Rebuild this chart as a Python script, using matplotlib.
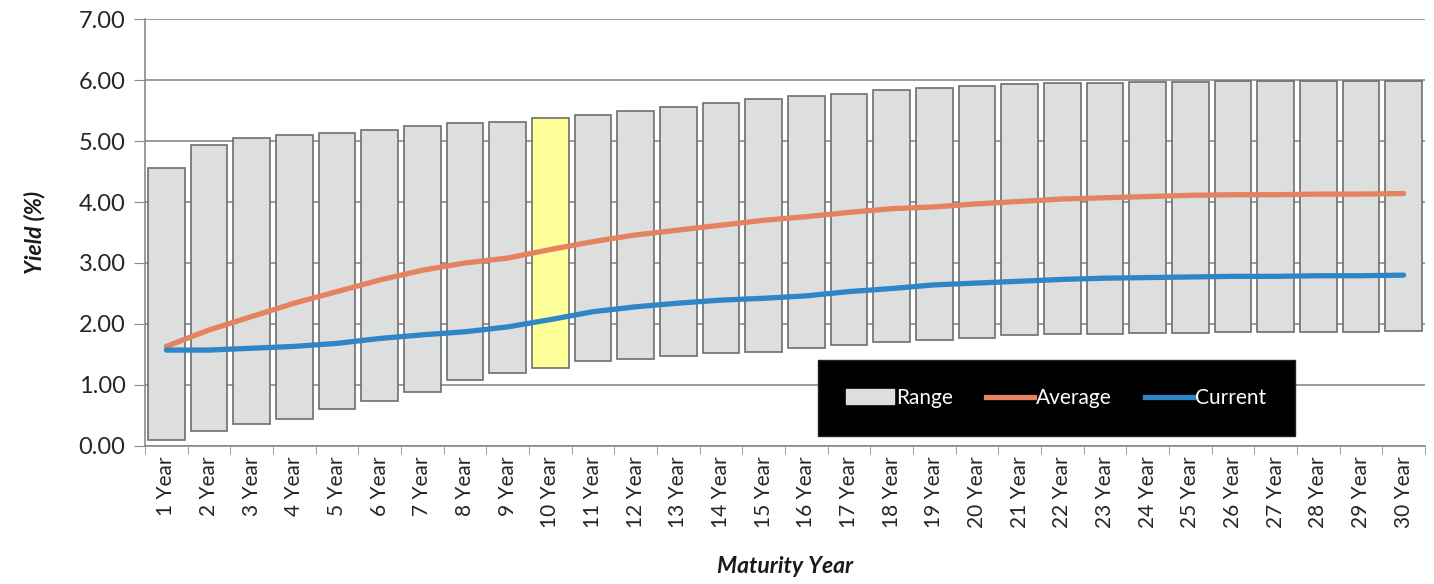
import matplotlib.pyplot as plt
from matplotlib.patches import Patch
from matplotlib.lines import Line2D

plt.rcParams['font.family'] = ['Lato', 'DejaVu Sans']

maturities = [f'{i} Year' for i in range(1, 31)]

range_high = [4.56, 4.93, 5.05, 5.10, 5.13, 5.19, 5.24, 5.30, 5.32, 5.38,
              5.43, 5.50, 5.56, 5.62, 5.69, 5.74, 5.78, 5.84, 5.88, 5.91,
              5.94, 5.96, 5.96, 5.97, 5.97, 5.98, 5.98, 5.98, 5.99, 5.99]
range_low = [0.10, 0.24, 0.35, 0.44, 0.61, 0.73, 0.88, 1.08, 1.19, 1.28,
             1.39, 1.42, 1.47, 1.52, 1.54, 1.60, 1.65, 1.70, 1.74, 1.77,
             1.82, 1.83, 1.84, 1.85, 1.85, 1.86, 1.86, 1.86, 1.87, 1.88]
average = [1.63, 1.90, 2.12, 2.34, 2.53, 2.72, 2.88, 3.00, 3.08, 3.22,
           3.35, 3.46, 3.54, 3.62, 3.70, 3.76, 3.83, 3.89, 3.92, 3.97,
           4.01, 4.05, 4.07, 4.09, 4.11, 4.12, 4.12, 4.13, 4.13, 4.14]
current = [1.57, 1.57, 1.60, 1.63, 1.68, 1.76, 1.82, 1.87, 1.95, 2.07,
           2.20, 2.28, 2.34, 2.39, 2.42, 2.46, 2.53, 2.58, 2.64, 2.67,
           2.70, 2.73, 2.75, 2.76, 2.77, 2.78, 2.78, 2.79, 2.79, 2.80]

highlight = '10 Year'

x = list(range(len(maturities)))
heights = [h - l for h, l in zip(range_high, range_low)]
bar_colors = ['#FFFF99' if m == highlight else '#DCDFDD' for m in maturities]

fig = plt.figure(figsize=(14.34, 5.84), dpi=100)
ax = fig.add_axes([0.1011, 0.2368, 0.8926, 0.7302])

ax.bar(x, heights, bottom=range_low, width=0.86, color=bar_colors,
       edgecolor='#6E6E6E', linewidth=1.2, zorder=2)
ax.plot(x, average, color='#E5825F', lw=3.8, zorder=3, solid_capstyle='round')
ax.plot(x, current, color='#2F86C6', lw=3.8, zorder=4, solid_capstyle='round')

ax.set_xlim(-0.5, len(maturities) - 0.5)
ax.set_ylim(0, 7)
ax.set_yticks(range(0, 8))
ax.set_yticklabels([f'{v:.2f}' for v in range(0, 8)], fontsize=17, color='#262626')
ax.yaxis.grid(True, color='#8A8A8A', lw=1.2, zorder=0)
ax.set_axisbelow(True)

ax.set_xticks(x)
ax.set_xticklabels(maturities, rotation=90, fontsize=15, color='#262626')
ax.set_xticks([i - 0.5 for i in range(len(maturities) + 1)], minor=True)
ax.tick_params(axis='x', which='major', length=0, pad=8)
ax.tick_params(axis='x', which='minor', length=6, color='#8A8A8A', direction='out')
ax.tick_params(axis='y', length=8, color='#8A8A8A', pad=6)

for side in ['top', 'right']:
    ax.spines[side].set_visible(False)
for side in ['left', 'bottom']:
    ax.spines[side].set_color('#8A8A8A')
    ax.spines[side].set_linewidth(1.2)

ax.set_ylabel('Yield (%)', fontsize=16.5, fontweight='bold', style='italic',
              color='#1A1A1A', labelpad=24)
ax.set_xlabel('Maturity Year', fontsize=16.5, fontweight='bold', style='italic',
              color='#1A1A1A', labelpad=20)

handles = [Patch(facecolor='#DCDFDD', edgecolor='#DCDFDD'),
           Line2D([], [], color='#E5825F', lw=3.8),
           Line2D([], [], color='#2F86C6', lw=3.8)]
leg = ax.legend(handles, ['Range', 'Average', 'Current'], ncol=3,
                loc='center', bbox_to_anchor=(0.712, 0.112),
                fontsize=15, labelcolor='white', frameon=True, fancybox=False,
                facecolor='black', edgecolor='#222222', framealpha=1,
                borderpad=1.35, handlelength=2.3, handletextpad=0.1,
                columnspacing=1.6, handleheight=0.7)
leg.set_zorder(5)

fig.savefig('out.png', dpi=100)
